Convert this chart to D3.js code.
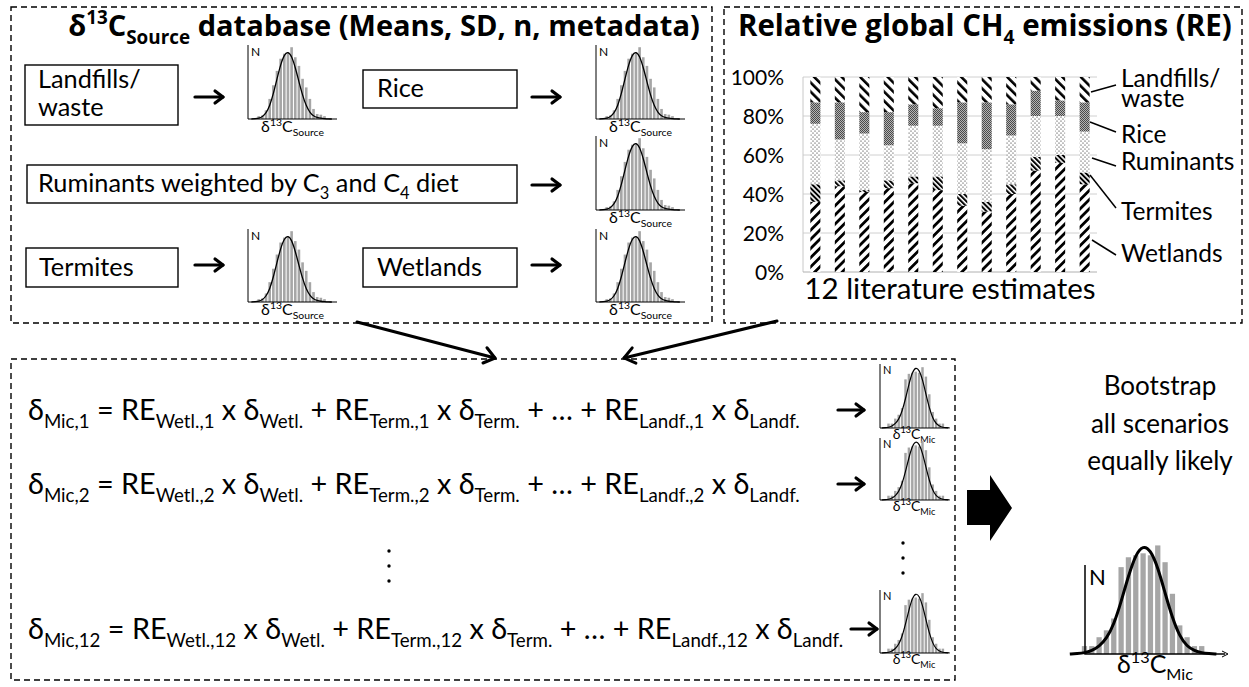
<!DOCTYPE html>
<html>
<head>
<meta charset="utf-8">
<script src="https://cdn.jsdelivr.net/npm/d3@7"></script>
<style>
  html, body { margin: 0; padding: 0; background: #fff; }
  svg { display: block; }
</style>
</head>
<body>
<svg id="fig"></svg>
<script>
// ---- data ----
const sources = ["Wetlands", "Termites", "Ruminants", "Rice", "Landfills"];
const estimates = d3.range(1, 13).map(String);
// share (%) of each source for the 12 literature estimates
const wetlands  = [36, 44, 41, 43, 45.5, 42, 34, 31, 40, 52, 56, 45];
const termites  = [9, 3, 1, 4, 3.5, 7, 6, 5, 5, 7, 4, 6];
const ruminants = [31, 21, 29, 18, 26, 26, 26, 27, 25, 21, 20, 21];
const rice      = [11, 19, 11, 17, 11, 9, 21, 24, 16, 13, 8, 15];
const landfills = [13, 13, 18, 18, 14, 16, 13, 13, 14, 7, 12, 13];
const yTicks = [0, 20, 40, 60, 80, 100];

// histogram shapes (bar counts and fitted curve heights at bin centres)
const srcCounts = [4, 5, 12, 28, 47, 67, 84, 91, 93, 100, 86, 74, 56, 44, 28, 14, 7, 6, 4];
const srcCurve  = [0, 0.5, 1, 3, 8, 18, 35, 56, 76, 90, 94, 88, 72, 52, 33, 18, 9, 4, 2, 1, 0.5, 0, 0];
const micCounts = [8, 8, 17, 24, 36, 88, 98, 100, 102, 100, 110, 93, 61, 29, 17, 8, 8];
const micCurve  = [0, 0.5, 1, 3, 7, 14, 27, 48, 72, 92, 100, 96, 80, 56, 33, 16, 7, 3, 1, 0.5, 0];

const eqRows = ["1", "2", "12"];

// ---- drawing ----
const W = 1249, H = 687;
const F = "Lato, 'Open Sans', sans-serif";
const FB = "'Open Sans', Lato, sans-serif";
const svg = d3.select("#fig").attr("width", W).attr("height", H)
    .style("font-family", F);
svg.append("rect").attr("width", W).attr("height", H).attr("fill", "#fff");
const defs = svg.append("defs");

function stripes(id, period, thick, angle) {
    const p = defs.append("pattern").attr("id", id)
        .attr("patternUnits", "userSpaceOnUse")
        .attr("width", period).attr("height", period)
        .attr("patternTransform", `rotate(${angle})`);
    p.append("rect").attr("width", period).attr("height", period).attr("fill", "#fff");
    p.append("rect").attr("width", thick).attr("height", period).attr("fill", "#000");
}
stripes("pWet", 6.5, 2.8, 45);
stripes("pTerm", 3.6, 2.0, -45);
stripes("pLand", 6.5, 2.6, -45);
{
    const p = defs.append("pattern").attr("id", "pRum").attr("patternUnits", "userSpaceOnUse")
        .attr("width", 4).attr("height", 4);
    p.append("rect").attr("width", 4).attr("height", 4).attr("fill", "#fff");
    p.append("circle").attr("cx", 1).attr("cy", 1).attr("r", 0.55).attr("fill", "#000");
    p.append("circle").attr("cx", 3).attr("cy", 3).attr("r", 0.55).attr("fill", "#000");
    const q = defs.append("pattern").attr("id", "pRice").attr("patternUnits", "userSpaceOnUse")
        .attr("width", 2).attr("height", 2);
    q.append("rect").attr("width", 2).attr("height", 2).attr("fill", "#b4b4b4");
    q.append("rect").attr("width", 1).attr("height", 1).attr("fill", "#4a4a4a");
    q.append("rect").attr("x", 1).attr("y", 1).attr("width", 1).attr("height", 1).attr("fill", "#4a4a4a");
}
const fills = { Wetlands: "url(#pWet)", Termites: "url(#pTerm)", Ruminants: "url(#pRum)",
                Rice: "url(#pRice)", Landfills: "url(#pLand)" };

// rich text: parts = [[text, ""|"sub"|"sup"], ...]
function rich(sel, x, y, parts, size, anchor, weight, family) {
    const t = sel.append("text").attr("x", x).attr("y", y)
        .attr("font-size", size).attr("text-anchor", anchor || "start")
        .attr("font-weight", weight || "normal").attr("fill", "#000");
    if (family) t.attr("font-family", family);
    let off = 0;
    parts.forEach(([s, k]) => {
        const target = k === "sub" ? size * 0.28 : k === "sup" ? -size * 0.4 : 0;
        t.append("tspan").attr("dy", target - off)
            .attr("font-size", k ? size * 0.65 : size).text(s);
        off = target;
    });
    return t;
}
// same, but sized so that the text spans the given width
function richFit(sel, x, y, parts, width, anchor, weight, family) {
    const probe = rich(sel, x, y, parts, 20, anchor, weight, family);
    const w = probe.node().getBBox().width;
    probe.remove();
    return rich(sel, x, y, parts, 20 * width / w, anchor, weight, family);
}

function dashedBox(x, y, w, h) {
    svg.append("rect").attr("x", x).attr("y", y).attr("width", w).attr("height", h)
        .attr("fill", "none").attr("stroke", "#000").attr("stroke-width", 1.4)
        .attr("stroke-dasharray", "6,4");
}

function arrow(x1, y1, x2, y2, sw, head) {
    const a = Math.atan2(y2 - y1, x2 - x1), s = 0.65;
    const g = svg.append("g").attr("stroke", "#000").attr("stroke-width", sw)
        .attr("fill", "none").attr("stroke-linecap", "round").attr("stroke-linejoin", "round");
    g.append("line").attr("x1", x1).attr("y1", y1).attr("x2", x2).attr("y2", y2);
    g.append("path").attr("d",
        `M${x2 - head * Math.cos(a - s)},${y2 - head * Math.sin(a - s)}L${x2},${y2}` +
        `L${x2 - head * Math.cos(a + s)},${y2 - head * Math.sin(a + s)}`);
}

function hist(x0, yTop, w, h, counts, curve, o) {
    const g = svg.append("g");
    const n = counts.length;
    const x = d3.scaleLinear().domain([0, n]).range([x0 + w * o.l, x0 + w * o.r]);
    const y = d3.scaleLinear().domain([0, d3.max(counts)]).range([yTop + h, yTop + h * o.top]);
    const step = x(1) - x(0);
    g.selectAll("rect").data(counts).join("rect")
        .attr("x", (d, i) => x(i) + step * 0.14).attr("width", step * 0.72)
        .attr("y", d => y(d)).attr("height", d => y(0) - y(d)).attr("fill", "#a6a6a6");
    const pts = curve.map((v, i) => [x(i - 2 + 0.5), y(v * d3.max(counts) / 100)]);
    g.append("path").attr("d", d3.line().curve(d3.curveBasis)(pts))
        .attr("fill", "none").attr("stroke", "#000").attr("stroke-width", o.cw);
    g.append("path").attr("d", `M${x0},${yTop}V${yTop + h}H${x0 + w}`)
        .attr("fill", "none").attr("stroke", "#000").attr("stroke-width", o.aw);
    g.append("text").attr("x", x0 + o.nx).attr("y", yTop + o.ny).attr("font-size", o.ns).text("N");
    rich(g, x0 + w / 2, yTop + h + o.ly, [["δ", ""], ["13", "sup"], ["C", ""], [o.sub, "sub"]], o.ls, "middle");
    return g;
}
const srcOpt = { l: 0.1, r: 0.88, top: 0.03, cw: 1.3, aw: 1, nx: 3, ny: 11, ns: 12, ly: 13, ls: 16, sub: "Source" };
const miniOpt = { l: 0.1, r: 0.95, top: 0.05, cw: 1.2, aw: 1, nx: 3, ny: 10, ns: 11, ly: 11, ls: 14, sub: "Mic" };

// ---- top-left panel ----
dashedBox(11, 7, 701, 316);
richFit(svg, 384, 36, [["δ", ""], ["13", "sup"], ["C", ""], ["Source", "sub"], [" database (Means, SD, n, metadata)", ""]], 632, "middle", "bold", FB);

function srcBox(x, y, w, h) {
    svg.append("rect").attr("x", x).attr("y", y).attr("width", w).attr("height", h)
        .attr("fill", "#fff").attr("stroke", "#000").attr("stroke-width", 1.4);
}
const BF = 25.3;
srcBox(25, 65, 153, 60);
svg.append("text").attr("x", 38).attr("y", 88).attr("font-size", BF).text("Landfills/");
svg.append("text").attr("x", 38).attr("y", 116).attr("font-size", BF).text("waste");
srcBox(363, 70, 154, 38);
svg.append("text").attr("x", 377).attr("y", 97).attr("font-size", BF).text("Rice");
srcBox(27, 165, 490, 38);
rich(svg, 38, 192, [["Ruminants weighted by C", ""], ["3", "sub"], [" and C", ""], ["4", "sub"], [" diet", ""]], BF);
srcBox(26, 248, 152, 39);
svg.append("text").attr("x", 39).attr("y", 276).attr("font-size", BF).text("Termites");
srcBox(363, 248, 154, 39);
svg.append("text").attr("x", 377).attr("y", 276).attr("font-size", BF).text("Wetlands");

arrow(195, 97, 223, 97, 3.2, 10);
arrow(532, 97, 560, 97, 3.2, 10);
arrow(532, 185, 560, 185, 3.2, 10);
arrow(195, 265, 223, 265, 3.2, 10);
arrow(532, 265, 560, 265, 3.2, 10);

hist(248, 45, 89, 74, srcCounts, srcCurve, srcOpt);
hist(596, 45, 89, 74, srcCounts, srcCurve, srcOpt);
hist(596, 136, 89, 74, srcCounts, srcCurve, srcOpt);
hist(248, 229, 89, 73, srcCounts, srcCurve, srcOpt);
hist(596, 229, 89, 73, srcCounts, srcCurve, srcOpt);

// ---- top-right panel: stacked bars ----
dashedBox(724, 7, 518, 316);
richFit(svg, 738, 36, [["Relative global CH", ""], ["4", "sub"], [" emissions (RE)", ""]], 494, "start", "bold", FB);

const xB = d3.scaleBand().domain(estimates).range([803, 1097]).paddingInner(0.59).paddingOuter(0.3);
const yB = d3.scaleLinear().domain([0, 100]).range([272, 77]);
const table = estimates.map((e, i) => ({ est: e, Wetlands: wetlands[i], Termites: termites[i],
    Ruminants: ruminants[i], Rice: rice[i], Landfills: landfills[i] }));
const stack = d3.stack().keys(sources)(table);

const chart = svg.append("g");
chart.append("g").selectAll("line").data(yTicks.slice(1)).join("line")
    .attr("x1", 803).attr("x2", 1097).attr("y1", d => yB(d)).attr("y2", d => yB(d))
    .attr("stroke", "#d0d0d0").attr("stroke-width", 1);
chart.append("line").attr("x1", 803).attr("x2", 803).attr("y1", yB(0)).attr("y2", yB(100))
    .attr("stroke", "#c8c8c8");
chart.append("line").attr("x1", 803).attr("x2", 1097).attr("y1", yB(0)).attr("y2", yB(0))
    .attr("stroke", "#b0b0b0");
const yAxis = chart.append("g").attr("transform", "translate(784,0)")
    .call(d3.axisLeft(yB).tickValues(yTicks).tickSize(0).tickPadding(0).tickFormat(d => d + "%"));
yAxis.select(".domain").remove();
yAxis.selectAll("text").attr("font-size", 21).attr("font-family", F).attr("fill", "#000").attr("dy", "0.34em");

chart.selectAll("g.layer").data(stack).join("g").attr("class", "layer")
    .attr("fill", d => fills[d.key])
    .selectAll("rect").data(d => d).join("rect")
    .attr("x", d => xB(d.data.est)).attr("width", xB.bandwidth())
    .attr("y", d => yB(d[1])).attr("height", d => yB(d[0]) - yB(d[1]));

svg.append("text").attr("x", 950).attr("y", 299).attr("text-anchor", "middle")
    .attr("font-size", 29.5).text("12 literature estimates");

// legend labels with leader lines
const legendLayout = [
    { lines: ["Landfills/", "waste"], y: 87, l: [1091, 92, 1116, 85] },
    { lines: ["Rice"], y: 143, l: [1090, 122, 1116, 132] },
    { lines: ["Ruminants"], y: 170, l: [1092, 158, 1116, 166] },
    { lines: ["Termites"], y: 220, l: [1090, 175, 1116, 208] },
    { lines: ["Wetlands"], y: 262, l: [1092, 240, 1116, 255] }
];
legendLayout.forEach(d => {
    d.lines.forEach((s, i) => svg.append("text").attr("x", 1121).attr("y", d.y + i * 20)
        .attr("font-size", 24.5).text(s));
    svg.append("line").attr("x1", d.l[0]).attr("y1", d.l[1]).attr("x2", d.l[2]).attr("y2", d.l[3])
        .attr("stroke", "#000").attr("stroke-width", 1.5);
});

// ---- connecting arrows ----
arrow(357, 322, 495, 358, 3, 13);
arrow(777, 321, 624, 358, 3, 13);

// ---- bottom panel: equations ----
dashedBox(11, 359, 944, 321);
const eqY = [420, 494, 639];
eqRows.forEach((r, i) => {
    rich(svg, 28, eqY[i], [
        ["δ", ""], [`Mic,${r}`, "sub"], [" = RE", ""], [`Wetl.,${r}`, "sub"], [" x δ", ""], ["Wetl.", "sub"],
        [" + RE", ""], [`Term.,${r}`, "sub"], [" x δ", ""], ["Term.", "sub"], [" + … + RE", ""],
        [`Landf.,${r}`, "sub"], [" x δ", ""], ["Landf.", "sub"]], 28.8);
});
arrow(838, 410, 864, 410, 3.2, 10);
arrow(838, 484, 864, 484, 3.2, 10);
arrow(851, 629, 877, 629, 3.2, 10);

[[389, 551], [389, 566], [389, 581], [903, 543], [903, 558], [903, 573]].forEach(([cx, cy]) =>
    svg.append("circle").attr("cx", cx).attr("cy", cy).attr("r", 1.7).attr("fill", "#000"));

hist(880, 364, 68, 64, micCounts, micCurve, miniOpt);
hist(880, 438, 68, 62, micCounts, micCurve, miniOpt);
hist(880, 590, 68, 63, micCounts, micCurve, miniOpt);

// ---- bootstrap ----
svg.append("path").attr("d", "M967,490H990V475L1012,508L990,541V525H967Z").attr("fill", "#000");
["Bootstrap", "all scenarios", "equally likely"].forEach((s, i) =>
    svg.append("text").attr("x", 1160).attr("y", 395 + i * 37.5).attr("text-anchor", "middle")
        .attr("font-size", 26).text(s));

const big = hist(1085, 565, 140, 89, micCounts, micCurve,
    { l: -0.03, r: 0.86, top: -0.22, cw: 3, aw: 1.5, nx: 4, ny: 20, ns: 22, ly: 19, ls: 25, sub: "Mic" });
big.append("path").attr("d", "M1222,651L1228,654L1222,657").attr("fill", "none").attr("stroke", "#000");
</script>
</body>
</html>
